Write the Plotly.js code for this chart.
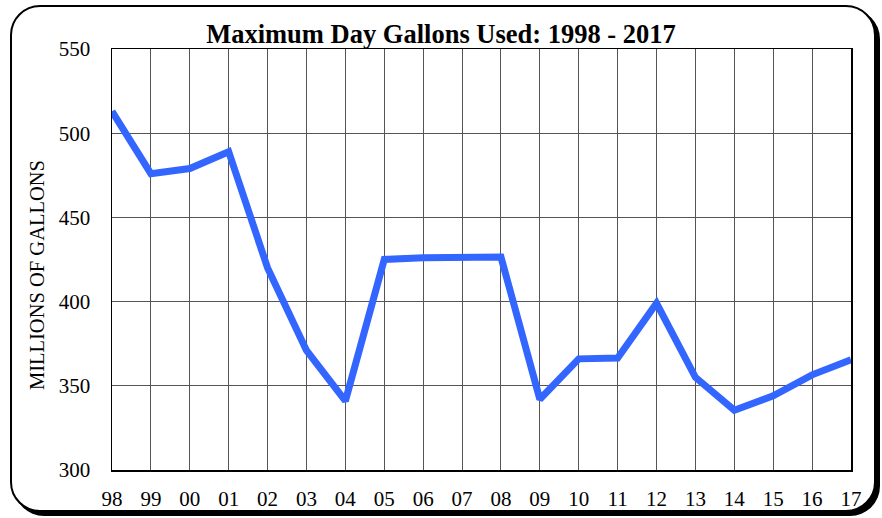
<!DOCTYPE html>
<html><head><meta charset="utf-8">
<script src="https://cdn.plot.ly/plotly-3.0.1.min.js"></script>
<style>
html,body{margin:0;padding:0;background:#fff;}
#frame{position:absolute;left:10px;top:5px;width:862px;height:503px;border:2px solid #000;border-radius:30px;box-shadow:4px 4px 0 #000;background:#fff;}
#chart{position:absolute;left:0;top:0;width:882px;height:518px;}
</style></head>
<body>
<div id="frame"></div>
<div id="chart"></div>
<script>
const years = ["98","99","00","01","02","03","04","05","06","07","08","09","10","11","12","13","14","15","16","17"];
const gallons = [513, 476, 479, 489, 420, 371, 341, 425, 426, 426, 426.5, 342, 366, 366.5, 399, 355, 335.5, 344, 356.5, 365.5];
const yTitle = 'MILLIONS OF GALLONS';

const trace = {
  x: years, y: gallons, type: 'scatter', mode: 'lines',
  line: {color: '#3366FF', width: 7}
};
const layout = {
  width: 882, height: 518,
  paper_bgcolor: 'rgba(0,0,0,0)', plot_bgcolor: '#fff',
  margin: {l: 112, r: 31, t: 49, b: 48},
  showlegend: false,
  font: {family: '"Liberation Serif", "Times New Roman", serif', color: '#000'},
  title: {text: '<b>Maximum Day Gallons Used: 1998 - 2017</b>', x: 0.5, xanchor: 'center', y: 0.935, yanchor: 'middle',
          font: {size: 26.5, family: '"Liberation Serif", serif', color: '#000'}},
  xaxis: {type: 'category', range: [0, 19], showgrid: true, gridcolor: '#555', gridwidth: 1,
          showline: true, linecolor: '#000', linewidth: 1.5, mirror: true, ticks: '',
          ticklabelstandoff: 9, tickfont: {size: 21}, fixedrange: true},
  yaxis: {range: [300, 550], dtick: 50, showgrid: true, gridcolor: '#555', gridwidth: 1,
          showline: true, linecolor: '#000', linewidth: 1.5, mirror: true, ticks: '',
          ticklabelstandoff: 16, tickfont: {size: 21}, zeroline: false},
  annotations: [{text: yTitle, xref: 'paper', yref: 'paper', x: -0.1015, y: 0.463,
                 xanchor: 'center', yanchor: 'middle', textangle: -90, showarrow: false,
                 font: {size: 20.5}}]
};
Plotly.newPlot('chart', [trace], layout, {displayModeBar: false, staticPlot: true});
</script>
</body></html>
